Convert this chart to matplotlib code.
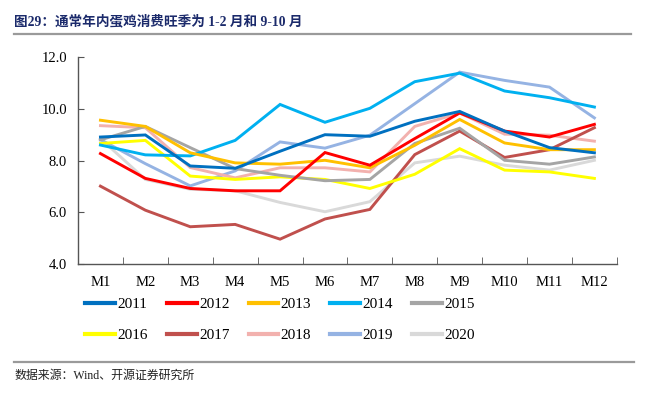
import matplotlib
matplotlib.use('Agg')
import matplotlib.pyplot as plt
from matplotlib.lines import Line2D

plt.rcParams['font.family'] = ['Liberation Serif', 'Noto Sans CJK SC', 'DejaVu Sans']

months = ['M1', 'M2', 'M3', 'M4', 'M5', 'M6', 'M7', 'M8', 'M9', 'M10', 'M11', 'M12']

y2011 = [8.91, 8.99, 7.79, 7.70, 8.36, 9.00, 8.94, 9.52, 9.90, 9.14, 8.50, 8.30]
y2012 = [8.27, 7.31, 6.92, 6.83, 6.83, 8.31, 7.82, 8.85, 9.84, 9.14, 8.91, 9.40]
y2013 = [9.56, 9.32, 8.30, 7.91, 7.86, 8.01, 7.72, 8.59, 9.59, 8.68, 8.42, 8.42]
y2014 = [8.60, 8.22, 8.18, 8.78, 10.17, 9.48, 10.02, 11.05, 11.38, 10.69, 10.43, 10.07]
y2015 = [8.80, 9.32, 8.50, 7.69, 7.43, 7.22, 7.27, 8.66, 9.25, 8.01, 7.86, 8.14]
y2016 = [8.66, 8.78, 7.40, 7.27, 7.37, 7.27, 6.92, 7.47, 8.46, 7.63, 7.56, 7.31]
y2017 = [7.01, 6.08, 5.44, 5.53, 4.96, 5.74, 6.11, 8.23, 9.14, 8.12, 8.42, 9.27]
y2018 = [9.35, 9.27, 7.73, 7.33, 7.72, 7.72, 7.56, 9.32, 9.84, 9.02, 8.98, 8.75]
y2019 = [8.81, 7.88, 7.02, 7.60, 8.72, 8.48, 8.98, 10.20, 11.42, 11.10, 10.84, 9.65]
y2020 = [8.85, 7.27, 6.89, 6.83, 6.38, 6.02, 6.41, 7.91, 8.17, 7.82, 7.63, 8.01]

years = ['2011', '2012', '2013', '2014', '2015', '2016', '2017', '2018', '2019', '2020']
series = [y2011, y2012, y2013, y2014, y2015, y2016, y2017, y2018, y2019, y2020]
colors = ['#0070C0', '#FF0000', '#FFC000', '#00B0F0', '#A5A5A5',
          '#FFFF00', '#C0504D', '#F2B1AE', '#95B3E3', '#D9D9D9']

fig = plt.figure(figsize=(6.5, 3.94), dpi=100)
ax = fig.add_axes([0.12, 0.33, 0.829, 0.525])

x = list(range(len(months)))
# draw from the last series backwards so 2011 ends on top
for ys, c in reversed(list(zip(series, colors))):
    ax.plot(x, ys, color=c, lw=2.1, solid_joinstyle='miter')

ax.set_xlim(-0.5, 11.5)
ax.set_ylim(4.0, 12.0)
ax.set_yticks([4, 6, 8, 10, 12])
ax.set_yticklabels(['%.1f' % v for v in [4, 6, 8, 10, 12]])
ax.set_xticks(x)
ax.set_xticklabels(months)
ax.set_xticks([i - 0.5 for i in range(13)], minor=True)
ax.tick_params(axis='x', which='major', length=0, pad=9, labelsize=10.5)
ax.tick_params(axis='x', which='minor', direction='in', length=5, color='#555555')
ax.tick_params(axis='y', direction='in', length=4, color='#555555', pad=8, labelsize=10.5)
for s in ['top', 'right']:
    ax.spines[s].set_visible(False)
for s in ['left', 'bottom']:
    ax.spines[s].set_color('#555555')
    ax.spines[s].set_linewidth(1.0)

# legend filled row by row (matplotlib fills columns first)
order = [0, 5, 1, 6, 2, 7, 3, 8, 4, 9]
handles = [Line2D([0], [0], color=colors[i], lw=3) for i in order]
labels = [years[i] for i in order]
fig.legend(handles, labels, ncol=5, loc='upper left', bbox_to_anchor=(0.11, 0.28),
           frameon=False, fontsize=11, handlelength=1.95, handletextpad=0.15,
           columnspacing=1.25, labelspacing=1.15)

# header / footer rules
fig.add_artist(Line2D([0.022, 0.97], [0.914, 0.914], color='#9a9a9a', lw=1.6))
fig.add_artist(Line2D([0.022, 0.975], [0.081, 0.081], color='#9a9a9a', lw=1.6))

fig.text(0.022, 0.928, '图29：通常年内蛋鸡消费旺季为 1-2 月和 9-10 月', fontsize=9.8,
         fontweight='bold', color='#1B2A6B', va='bottom',
         family=['Liberation Serif', 'Noto Sans CJK SC'])
fig.text(0.022, 0.045, '数据来源：Wind、开源证券研究所', fontsize=8.6, color='#222222',
         va='center', family=['Liberation Serif', 'Noto Sans CJK SC'])

fig.savefig('out.png', dpi=100)
